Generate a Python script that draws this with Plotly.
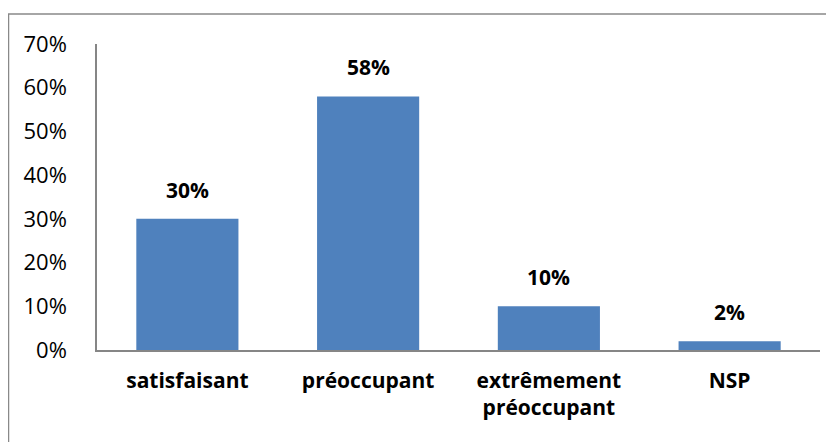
import plotly.graph_objects as go

categories = ["satisfaisant", "préoccupant", "extrêmement<br>préoccupant", "NSP"]
values = [0.30, 0.58, 0.10, 0.02]
value_labels = ["30%", "58%", "10%", "2%"]

bar_color = "#4F81BD"
font_family = "Open Sans, Liberation Sans, sans-serif"

fig = go.Figure()
fig.add_trace(go.Bar(
    x=categories,
    y=values,
    marker=dict(color=bar_color, line=dict(width=0)),
    width=0.565,
    hoverinfo="skip",
))

# etiquettes au-dessus des barres
for cat, val, lab in zip(categories, values, value_labels):
    fig.add_annotation(
        x=cat, y=val, text="<b>" + lab + "</b>",
        showarrow=False, yanchor="bottom", yshift=13,
        font=dict(family=font_family, size=21, color="#000000"),
    )

# cadre de la zone du graphique
fig.add_shape(
    type="rect", xref="paper", yref="paper",
    x0=-0.1224, x1=1.0097, y0=-0.36, y1=1.098,
    line=dict(color="#898989", width=1.5), fillcolor="rgba(0,0,0,0)",
    layer="below",
)

fig.update_layout(
    width=834, height=442,
    margin=dict(l=89, r=22, t=36, b=100),
    paper_bgcolor="white", plot_bgcolor="white",
    showlegend=False,
    bargap=0.435,
    font=dict(family=font_family, size=20, color="#000000"),
)
fig.update_xaxes(
    showline=True, linecolor="#868686", linewidth=1.5,
    showgrid=False, ticks="",
    tickfont=dict(family=font_family, size=21, color="#000000", weight="bold"),
    ticklabelstandoff=11,
)
fig.update_yaxes(
    range=[0, 0.7], dtick=0.1, tickformat=".0%",
    showline=True, linecolor="#868686", linewidth=1.5,
    showgrid=False, zeroline=False, ticks="",
    tickfont=dict(family=font_family, size=22, color="#000000"),
    ticklabelstandoff=24,
)

fig.write_html("out.html")
